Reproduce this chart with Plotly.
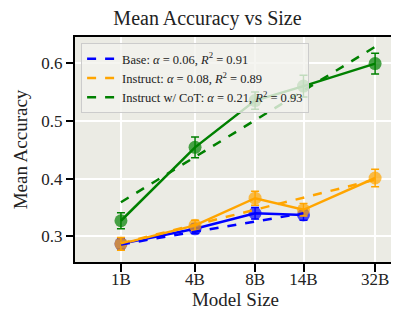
import plotly.graph_objects as go

# ---- data ----
sizes = [1.7, 4, 8, 14, 32]
size_labels = ["1B", "4B", "8B", "14B", "32B"]

base_sizes = [1.7, 4, 8, 14]
base_acc = [0.287, 0.313, 0.340, 0.337]
base_err = [0.009, 0.008, 0.010, 0.009]
base_fit = [0.286, 0.308, 0.326, 0.340]

instr_acc = [0.287, 0.319, 0.366, 0.346, 0.401]
instr_err = [0.011, 0.009, 0.012, 0.011, 0.015]
instr_fit = [0.288, 0.320, 0.346, 0.367, 0.398]

cot_acc = [0.327, 0.454, 0.535, 0.560, 0.599]
cot_err = [0.014, 0.018, 0.015, 0.019, 0.018]
cot_fit = [0.359, 0.437, 0.501, 0.552, 0.628]

legend_names = [
    "Base: <i>α</i> = 0.06, <i>R</i><sup>2</sup> = 0.91",
    "Instruct: <i>α</i> = 0.08, <i>R</i><sup>2</sup> = 0.89",
    "Instruct w/ CoT: <i>α</i> = 0.21, <i>R</i><sup>2</sup> = 0.93",
]

FONT = "Liberation Serif"

fig = go.Figure()

series = [
    (base_sizes, base_acc, base_err, base_fit, "blue", legend_names[0]),
    (sizes, instr_acc, instr_err, instr_fit, "orange", legend_names[1]),
    (sizes, cot_acc, cot_err, cot_fit, "green", legend_names[2]),
]

for xs, ys, es, fit, col, name in series:
    fig.add_trace(go.Scatter(
        x=xs, y=ys, mode="lines+markers", showlegend=False,
        line=dict(color=col, width=2.5),
        marker=dict(color=col, size=13, opacity=0.7),
        error_y=dict(type="data", array=es, visible=True, color=col,
                     thickness=1.5, width=4),
    ))

for xs, ys, es, fit, col, name in series:
    fig.add_trace(go.Scatter(
        x=xs, y=fit, mode="lines", name=name,
        line=dict(color=col, width=2.5, dash="dash"),
    ))

fig.update_layout(
    width=399, height=315,
    margin=dict(l=67, r=9, t=29, b=61),
    paper_bgcolor="white",
    plot_bgcolor="#EBEBE4",
    font=dict(family=FONT, color="#222", size=12),
    title=dict(text="Mean Accuracy vs Size", x=0.5, xanchor="center",
               y=0.968, yanchor="middle", font=dict(size=20, color="#222")),
    legend=dict(x=0.019, y=0.973, xanchor="left", yanchor="top",
                bgcolor="rgba(242,242,238,0.8)", bordercolor="#cccccc",
                borderwidth=1, font=dict(size=12.5, family=FONT),
                itemwidth=30, tracegroupgap=0),
    showlegend=True,
)

fig.update_xaxes(
    type="log", range=[0.0, 1.61],
    tickvals=sizes, ticktext=size_labels,
    showgrid=True, gridcolor="white", gridwidth=1.5,
    showline=True, linecolor="black", linewidth=2, mirror=True,
    ticks="outside", ticklen=8, tickwidth=1.5, tickcolor="black",
    tickfont=dict(size=17), zeroline=False, ticklabelstandoff=-7,
    title=dict(text="Model Size", font=dict(size=19), standoff=0),
)
fig.update_yaxes(
    range=[0.2556, 0.645],
    tickvals=[0.3, 0.4, 0.5, 0.6],
    showgrid=True, gridcolor="white", gridwidth=1.5,
    showline=True, linecolor="black", linewidth=2, mirror=True,
    ticks="outside", ticklen=7, tickwidth=1.5, tickcolor="black",
    tickfont=dict(size=17), zeroline=False,
    title=dict(text="Mean Accuracy", font=dict(size=19), standoff=9),
)

fig.write_html("out.html")
